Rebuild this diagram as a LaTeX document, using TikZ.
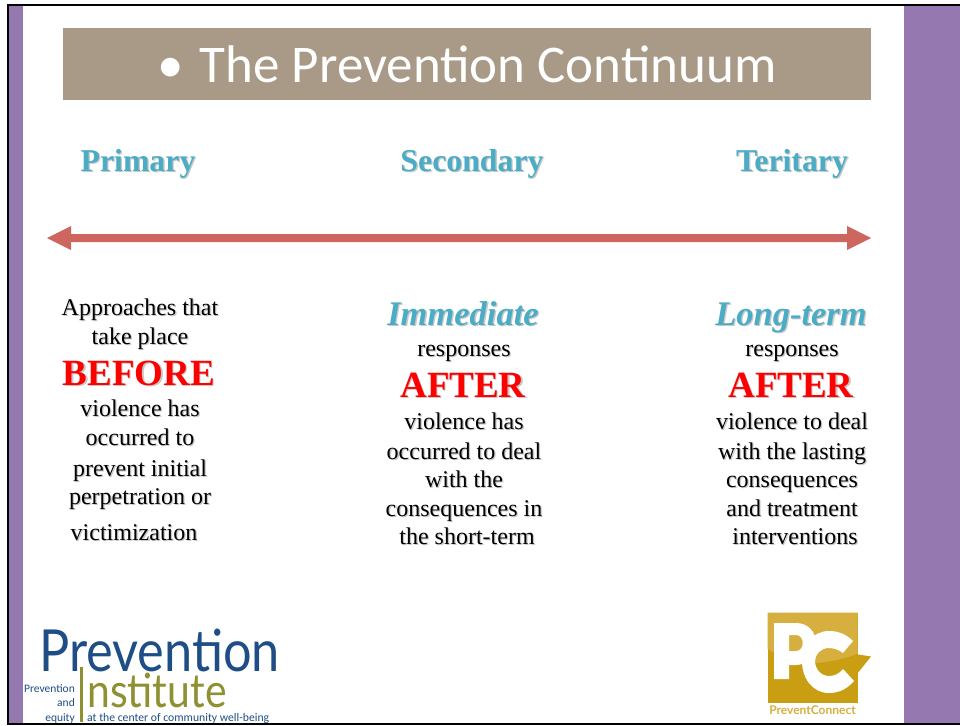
\documentclass[tikz,border=0pt]{standalone}
\usepackage{fontspec}
\setmainfont{Liberation Serif}
\newfontfamily\carlito{Carlito}
\newfontfamily\lato{Lato}
\usetikzlibrary{calc}
\definecolor{purp}{HTML}{9478AF}
\definecolor{taupe}{HTML}{A99A87}
\definecolor{teal}{HTML}{4BACC6}
\definecolor{rust}{HTML}{CD665E}
\definecolor{pblue}{HTML}{1F4E86}
\definecolor{polive}{HTML}{8E9032}
\definecolor{gold}{HTML}{C99E12}
\definecolor{goldl}{HTML}{D6AF3E}
\definecolor{shad}{HTML}{C8C8C8}
\tikzset{
 x=1pt,y=-1pt,
 lbl/.style={inner sep=0pt,anchor=base,align=center},
 body/.style={lbl,font=\fontsize{24}{24}\selectfont,text=black},
 head/.style={lbl,font=\fontsize{31.8}{32}\selectfont\bfseries,text=teal},
 ital/.style={lbl,font=\fontsize{34.5}{34}\selectfont\bfseries\itshape,text=teal},
 red/.style={lbl,font=\fontsize{37}{37}\selectfont\bfseries,text=red},
 logo/.style={inner sep=0pt,anchor=base}
}
\newcommand{\sh}[4]{% style, x, y, text
 \node[#1,text=shad] at (#2+1.3,#3+1.6) {#4};
 \node[#1] at (#2,#3) {#4};}
\begin{document}
\begin{tikzpicture}
\useasboundingbox (0,0) rectangle (960,725);
\fill[white] (0,0) rectangle (960,725);
\fill[purp] (8,5) rectangle (23,723);
\fill[purp] (904,5) rectangle (960,723);
\fill[black] (7,4) rectangle (960,6);
\fill[black] (7,4) rectangle (8.5,725);
\fill[black] (7,723) rectangle (960,724.5);
% title
\node[fill=taupe,minimum width=808pt,minimum height=72pt,inner sep=0pt,anchor=north west] (band) at (63,28) {};
\node[inner sep=0pt,anchor=base,text=white,font=\carlito\fontsize{53}{53}\selectfont] (title) at (467,82.5) {•\hspace{16pt}The Prevention Continuum};
% heads
\sh{head}{138}{171}{Primary}
\sh{head}{472}{171}{Secondary}
\sh{head}{792}{171}{Teritary}
% arrow
\coordinate (al) at (47,238);
\coordinate (ar) at (871,238);
\fill[rust] (al) -- (71,226) -- (71,234) -- (847,234) -- (847,226) -- (ar) -- (847,250) -- (847,242) -- (71,242) -- (71,250) -- cycle;
% col 1
\sh{body}{140}{315}{Approaches that}
\sh{body}{140}{344}{take place}
\sh{red}{139}{385}{BEFORE}
\sh{body}{140}{416}{violence has}
\sh{body}{140}{445}{occurred to}
\sh{body}{140}{476}{prevent initial}
\sh{body}{140}{504}{perpetration or}
\sh{body}{134}{540}{victimization}
% col 2
\sh{ital}{463}{325}{Immediate}
\sh{body}{464}{356}{responses}
\sh{red}{463}{397}{AFTER}
\sh{body}{464}{429}{violence has}
\sh{body}{464}{459}{occurred to deal}
\sh{body}{464}{487}{with the}
\sh{body}{464}{516}{consequences in}
\sh{body}{467}{544}{the short-term}
% col 3
\sh{ital}{791}{325}{Long-term}
\sh{body}{792}{356}{responses}
\sh{red}{791}{397}{AFTER}
\sh{body}{792}{429}{violence to deal}
\sh{body}{792}{459}{with the lasting}
\sh{body}{792}{487}{consequences}
\sh{body}{792}{516}{and treatment}
\sh{body}{795}{544}{interventions}
% Prevention Institute logo
\node[logo,anchor=base west,text=pblue,font=\lato\fontsize{58}{58}\selectfont] (pv) at (39,671) {\scalebox{0.87}[1]{Prevention}};
\node[logo,anchor=base west,text=polive,font=\lato\fontsize{47}{47}\selectfont] (ins) at (87,707) {\scalebox{0.87}[1]{nstitute}};
\fill[polive] (80,667) rectangle (82.5,722);
\node[logo,anchor=base east,text=pblue,font=\carlito\fontsize{11.5}{11.5}\selectfont] (p1) at (75,692) {Prevention};
\node[logo,anchor=base east,text=pblue,font=\carlito\fontsize{11.5}{11.5}\selectfont] (p2) at (75,706) {and};
\node[logo,anchor=base east,text=pblue,font=\carlito\fontsize{11.5}{11.5}\selectfont] (p3) at (75,721) {equity};
\node[logo,anchor=base west,text=pblue,font=\carlito\fontsize{11.7}{11.7}\selectfont] (p4) at (87,721) {at the center of community well-being};
% PreventConnect logo
\fill[gold] (767.5,612.5) rectangle (857.5,703);
\fill[goldl] (767.5,612.5) -- (857.5,612.5) -- (857.5,654) .. controls (838,661) and (818,664) .. (805,663) .. controls (790,661) and (778,655) .. (767.5,649) -- cycle;
\fill[gold] (855,654) -- (871,656.5) -- (857,674) -- cycle;
% P
\fill[white,even odd rule] (774,623) -- (796,623) .. controls (808,623) and (816,632) .. (816,643) .. controls (816,656) and (806,665) .. (796,665) -- (789,665) -- (789,679) -- (774,679) -- cycle
 (789,635) -- (789,651) -- (796,651) .. controls (805,651) and (805,635) .. (796,635) -- cycle;
% C
\fill[white] (853,641) .. controls (846,634) and (838,631) .. (829,631) .. controls (813,631) and (802,645) .. (802,661) .. controls (802,679) and (813,693) .. (829,693) .. controls (840,693) and (848,688) .. (854,681) -- (843,669) .. controls (839,674) and (834,676) .. (829,676) .. controls (821,676) and (815,669) .. (815,661) .. controls (815,654) and (821,648) .. (829,648) .. controls (834,648) and (839,650) .. (843,653) -- cycle;
\node[logo,text=goldl,font=\lato\bfseries\fontsize{12}{12}\selectfont] (pc) at (812.5,714) {PreventConnect};
\end{tikzpicture}
\end{document}
